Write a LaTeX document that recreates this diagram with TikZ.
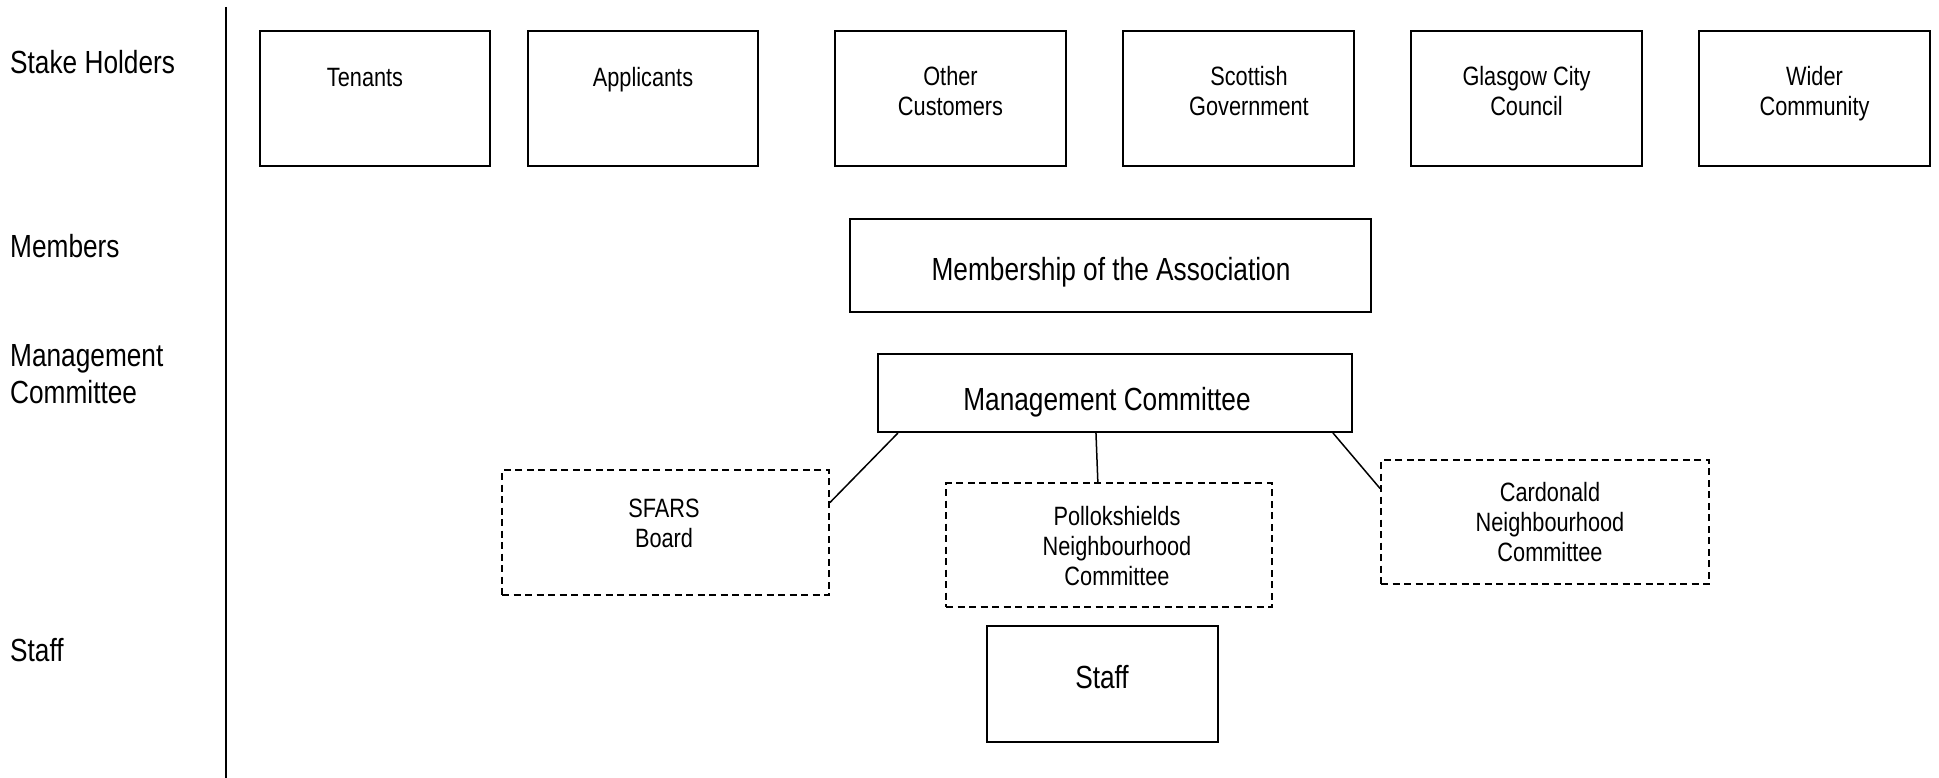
\documentclass[tikz,border=0pt]{standalone}
\usepackage{fontspec}
\setmainfont{Liberation Sans}[FakeStretch=0.82]
\usetikzlibrary{calc}
\begin{document}
\begin{tikzpicture}[x=1pt,y=-1pt,
  sbox/.style={draw, line width=2pt, inner sep=0pt},
  dbox/.style={draw, line width=1.8pt, dash pattern=on 7pt off 4.5pt, inner sep=0pt},
  smalltxt/.style={font=\fontsize{26.5}{30}\selectfont, align=center, inner sep=0pt,
    execute at begin node=\strut, execute at end node=\strut},
  bigtxt/.style={font=\fontsize{32}{37}\selectfont, align=center, inner sep=0pt,
    execute at begin node=\strut, execute at end node=\strut},
  lefttxt/.style={bigtxt, align=left, anchor=west},
  conn/.style={line width=1.5pt},
  sep/.style={line width=2.5pt}
]
\useasboundingbox (0,0) rectangle (1939,778);

% separator
\coordinate (septop) at (226,7);
\coordinate (sepbot) at (226,778);
\draw[sep] (septop) -- (sepbot);

% row labels
\node[lefttxt] (lstake) at (10,66) {Stake Holders};
\node[lefttxt] (lmem) at (10,250) {Members};
\node[lefttxt] (lmc) at (10,379.6) {Management\\Committee};
\node[lefttxt] (lstaff) at (10,654) {Staff};

% stakeholder boxes
\node[sbox, minimum width=230, minimum height=135] (tenants) at (375,98.5) {};
\node[sbox, minimum width=230, minimum height=135] (applicants) at (643,98.5) {};
\node[sbox, minimum width=231, minimum height=135] (other) at (950.5,98.5) {};
\node[sbox, minimum width=231, minimum height=135] (scottish) at (1238.5,98.5) {};
\node[sbox, minimum width=231, minimum height=135] (glasgow) at (1526.5,98.5) {};
\node[sbox, minimum width=231, minimum height=135] (wider) at (1814.5,98.5) {};

\node[smalltxt] (tenantsT) at (365,81) {Tenants};
\node[smalltxt] (applicantsT) at (643,81) {Applicants};
\node[smalltxt] (otherT) at (950.5,95.75) {Other\\Customers};
\node[smalltxt] (scottishT) at (1249,95.75) {Scottish\\Government};
\node[smalltxt] (glasgowT) at (1526.5,95.75) {Glasgow City\\Council};
\node[smalltxt] (widerT) at (1814.5,95.75) {Wider\\Community};

% members
\node[sbox, minimum width=521, minimum height=93] (membership) at (1110.5,265.5) {};
\node[bigtxt] (membershipT) at (1111,273) {Membership of the Association};

% management committee
\node[sbox, minimum width=474, minimum height=78] (mc) at (1115,393) {};
\node[bigtxt] (mcT) at (1107,403.5) {Management Committee};

% committees
\node[dbox, minimum width=327, minimum height=125] (sfars) at (665.5,532.5) {};
\node[smalltxt] (sfarsT) at (664,527.5) {SFARS\\Board};
\node[dbox, minimum width=326, minimum height=124] (pollok) at (1109,545) {};
\node[smalltxt] (pollokT) at (1117,550) {Pollokshields\\Neighbourhood\\Committee};
\node[dbox, minimum width=328, minimum height=124] (cardonald) at (1545,522) {};
\node[smalltxt] (cardonaldT) at (1550,526.5) {Cardonald\\Neighbourhood\\Committee};

% staff
\node[sbox, minimum width=231, minimum height=116] (staff) at (1102.5,684) {};
\node[bigtxt] (staffT) at (1102,680.6) {Staff};

% connectors
\draw[conn] ($(mc.south west)!0.044!(mc.south east)$) -- ($(sfars.north east)!0.264!(sfars.south east)$);
\draw[conn] ($(mc.south west)!0.46!(mc.south east)$) -- ($(pollok.north west)!0.466!(pollok.north east)$);
\draw[conn] ($(mc.south west)!0.958!(mc.south east)$) -- ($(cardonald.north west)!0.234!(cardonald.south west)$);
\end{tikzpicture}
\end{document}
